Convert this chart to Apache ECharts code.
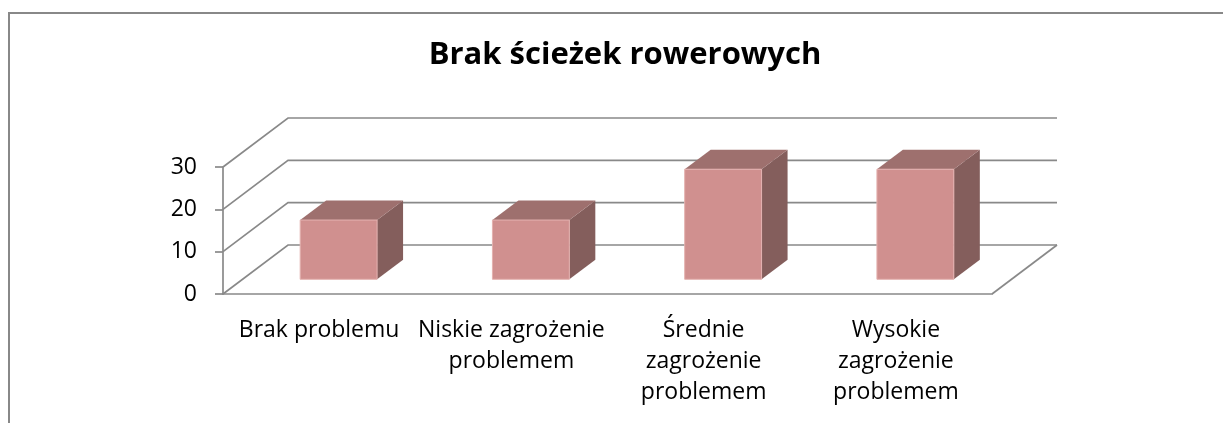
<!DOCTYPE html>
<html>
<head>
<meta charset="utf-8">
<script src="https://cdn.jsdelivr.net/npm/echarts@6/dist/echarts.min.js"></script>
<style>
  html, body { margin: 0; padding: 0; background: #fff; }
  #chart { width: 1223px; height: 423px; }
</style>
</head>
<body>
<div id="chart"></div>
<script>
// dane wykresu
const categories = ['Brak problemu', 'Niskie zagrożenie problemem', 'Średnie zagrożenie problemem', 'Wysokie zagrożenie problemem']
const catLabels = ['Brak problemu', 'Niskie zagrożenie\nproblemem', 'Średnie\nzagrożenie\nproblemem', 'Wysokie\nzagrożenie\nproblemem']
const values = [14, 14, 26, 26]
const yTicks = [0, 10, 20, 30]

// głębokość "3D" w pikselach
const DEPTH_X = 65
const DEPTH_Y = -49
const BAR_FRONT = 0.3   // przód słupka (ułamek głębokości)
const BAR_BACK = 0.7    // tył słupka
const BAR_WIDTH = 0.4   // szerokość słupka względem kategorii

const GRID_COLOR = '#898989'
const FONT = 'Open Sans'

const chart = echarts.init(document.getElementById('chart'), null, { renderer: 'canvas' })

/** ściany: linie siatki na tylnej ścianie + przekątne */
function renderWall(params, api) {
  const v = api.value(0)
  const left = api.coord([0, v])
  const x0 = params.coordSys.x
  const x1 = params.coordSys.x + params.coordSys.width
  const y = left[1]
  const children = [{
    type: 'polyline',
    shape: {
      points: [[x0, y], [x0 + DEPTH_X, y + DEPTH_Y], [x1 + DEPTH_X, y + DEPTH_Y]]
    },
    style: { stroke: GRID_COLOR, lineWidth: 1.7, fill: null }
  }]
  if (v === 0) {
    children.push({
      type: 'line',
      shape: { x1: x1, y1: y, x2: x1 + DEPTH_X, y2: y + DEPTH_Y },
      style: { stroke: GRID_COLOR, lineWidth: 1.7 }
    })
  }
  return { type: 'group', children: children }
}

/** słupek 3D */
function renderBar(params, api) {
  const i = api.value(0)
  const v = api.value(1)
  const base = api.coord([i, 0])
  const top = api.coord([i, v])
  const band = api.size([1, 0])[0]
  const w = band * BAR_WIDTH
  const fx = BAR_FRONT * DEPTH_X, fy = BAR_FRONT * DEPTH_Y
  const bx = (BAR_BACK - BAR_FRONT) * DEPTH_X, by = (BAR_BACK - BAR_FRONT) * DEPTH_Y
  const xl = base[0] - w / 2 + fx
  const xr = base[0] + w / 2 + fx
  const yb = base[1] + fy
  const yt = top[1] + fy
  return {
    type: 'group',
    children: [
      {
        type: 'polygon',
        shape: { points: [[xr, yt], [xr + bx, yt + by], [xr + bx, yb + by], [xr, yb]] },
        style: { fill: '#845e5c' }
      },
      {
        type: 'polygon',
        shape: { points: [[xl, yt], [xr, yt], [xr + bx, yt + by], [xl + bx, yt + by]] },
        style: { fill: '#9e706e' }
      },
      {
        type: 'rect',
        shape: { x: xl, y: yt, width: xr - xl, height: yb - yt },
        style: { fill: '#d0908f', stroke: '#e4b2b0', lineWidth: 1 }
      }
    ]
  }
}

const option = {
  backgroundColor: '#fff',
  animation: false,
  title: {
    text: 'Brak ścieżek rowerowych',
    left: 620,
    top: 35,
    textAlign: 'center',
    textStyle: { fontFamily: FONT, fontSize: 31, fontWeight: 'bold', color: '#000' }
  },
  graphic: [{
    type: 'polyline',
    shape: { points: [[9, 423], [9, 13], [1223, 13]] },
    style: { stroke: '#888', lineWidth: 2, fill: null }
  }],
  grid: { left: 223, right: 231, top: 167, bottom: 129 },
  xAxis: {
    type: 'category',
    data: categories,
    axisLine: { lineStyle: { color: GRID_COLOR, width: 1.7 } },
    axisTick: { length: 8, lineStyle: { color: GRID_COLOR, width: 1.7 } },
    axisLabel: {
      margin: 21,
      color: '#000',
      fontFamily: FONT,
      fontSize: 23,
      lineHeight: 31,
      interval: 0,
      formatter: (val, idx) => catLabels[idx]
    }
  },
  yAxis: {
    type: 'value',
    min: 0,
    max: 30,
    interval: 10,
    axisLine: { show: true, lineStyle: { color: GRID_COLOR, width: 1.7 } },
    axisTick: { show: true, length: 8, lineStyle: { color: GRID_COLOR, width: 1.7 } },
    splitLine: { show: false },
    axisLabel: { margin: 26, color: '#000', fontFamily: FONT, fontSize: 23 }
  },
  series: [
    {
      type: 'custom',
      name: 'wall',
      renderItem: renderWall,
      data: yTicks.map(t => [t]),
      encode: { y: 0 },
      z: 1,
      silent: true
    },
    {
      type: 'custom',
      name: 'Brak ścieżek rowerowych',
      renderItem: renderBar,
      data: values.map((v, i) => [i, v]),
      encode: { x: 0, y: 1 },
      z: 3
    }
  ]
}

chart.setOption(option)
</script>
</body>
</html>
